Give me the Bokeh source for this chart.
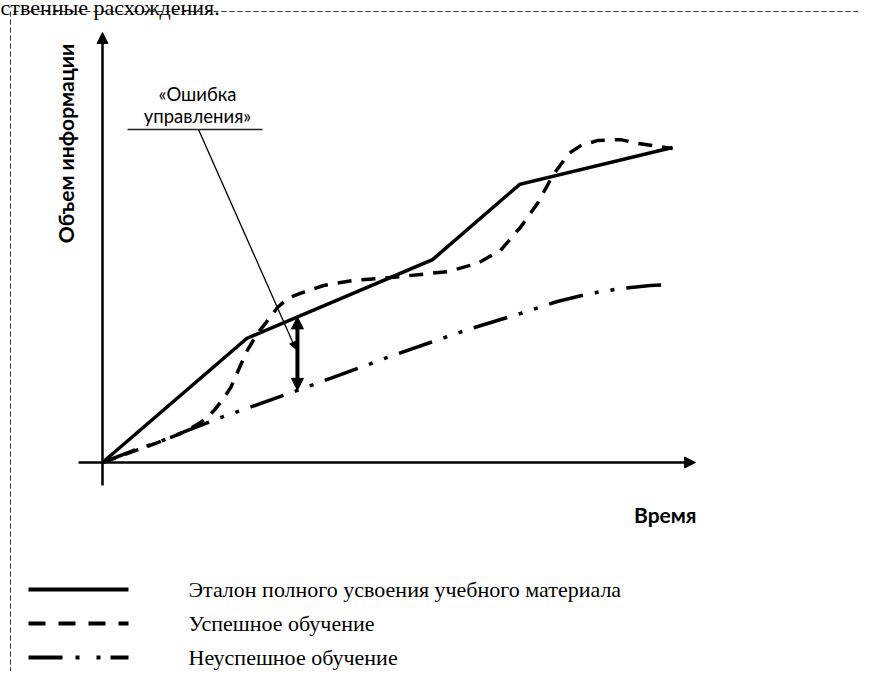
import numpy as np
from bokeh.plotting import figure
from bokeh.models import Range1d, Arrow, NormalHead, Label
from bokeh.embed import file_html
from bokeh.resources import INLINE

# ---------------- data ----------------
etalon_t = [0.0, 2.53, 5.79, 7.32, 10.0]
etalon_v = [0.0, 3.94, 6.44, 8.83, 10.0]

success_t = [0.0, 0.54, 0.98, 1.37, 1.67, 1.84, 1.97, 2.11, 2.25, 2.42, 2.54, 2.72,
             2.90, 3.07, 3.25, 3.47, 3.88, 4.40, 5.05, 5.58, 6.05, 6.58, 6.98, 7.33,
             7.63, 7.90, 8.18, 8.39, 8.68, 9.09, 9.39, 9.67, 10.0]
success_v = [0.0, 0.35, 0.64, 0.92, 1.21, 1.43, 1.68, 2.00, 2.38, 3.08, 3.56, 4.10,
             4.51, 4.92, 5.21, 5.37, 5.62, 5.78, 5.87, 5.97, 6.06, 6.32, 6.73, 7.46,
             8.22, 9.11, 9.81, 10.06, 10.22, 10.25, 10.13, 10.06, 9.97]

fail_t = [0.0, 0.54, 1.02, 1.54, 2.12, 2.63, 3.42, 4.00, 4.53, 5.05, 5.75, 6.46,
          7.33, 7.98, 8.56, 9.09, 9.61, 10.0]
fail_v = [0.0, 0.38, 0.67, 1.05, 1.46, 1.78, 2.29, 2.67, 3.02, 3.37, 3.81, 4.25,
          4.73, 5.11, 5.37, 5.52, 5.62, 5.65]

error_t = 3.42

legend_labels = ["Эталон полного усвоения учебного материала",
                 "Успешное обучение",
                 "Неуспешное обучение"]
x_label = "Время"
y_label = "Объем информации"
callout_lines = ["«Ошибка", "управления»"]
top_text = "ственные расхождения."

# ---------------- layout ----------------
W, H = 858, 671
X0, Y0, KX, KY = 102.0, 462.0, 57.0, 31.5   # pixel of origin, px per unit


def dx(px):
    return (px - X0) / KX


def dy(py):
    return (Y0 - py) / KY


p = figure(width=W, height=H,
           x_range=Range1d(dx(0), dx(W)),
           y_range=Range1d(dy(H), dy(0)),
           output_backend="svg", toolbar_location=None,
           x_axis_location=None, y_axis_location=None,
           min_border=0, outline_line_color=None, background_fill_color="white")
p.grid.visible = False

DASH_S = "14 10"
DASH_F = "35 12 4 12 4 12"

# text of the page above the frame (cut off at the top, as in the source)
p.add_layout(Label(x=dx(0), y=dy(7), text=top_text,
                   text_align="left", text_baseline="alphabetic",
                   text_font="Liberation Serif", text_font_size="22px",
                   text_color="black"))

# dashed frame
p.line([dx(10), dx(10), dx(900)], [dy(720), dy(11), dy(11)],
       line_width=1, line_dash="5 3", color="#333333")

# curves
p.line(etalon_t, etalon_v, line_width=3.5, color="black", line_join="miter")
p.line(success_t, success_v, line_width=3.5, color="black", line_dash=DASH_S)
p.line(fail_t, fail_v, line_width=3.5, color="black", line_dash=DASH_F)

# axes with arrows
head = dict(fill_color="black", line_color="black", line_width=1)
p.add_layout(Arrow(end=NormalHead(size=11, **head),
                   x_start=0, y_start=dy(485), x_end=0, y_end=dy(32),
                   line_width=2.5, line_color="black"))
p.add_layout(Arrow(end=NormalHead(size=11, **head),
                   x_start=dx(78), y_start=0, x_end=dx(695), y_end=0,
                   line_width=2.5, line_color="black"))

# error double arrow
top = float(np.interp(error_t, etalon_t, etalon_v))
bot = float(np.interp(error_t, fail_t, fail_v))
p.add_layout(Arrow(start=NormalHead(size=12, **head), end=NormalHead(size=12, **head),
                   x_start=error_t, y_start=bot, x_end=error_t, y_end=top,
                   line_width=4, line_color="black"))

# callout
p.line([dx(127), dx(262)], [dy(129), dy(129)], line_width=1.5, color="#222222")
p.add_layout(Arrow(end=NormalHead(size=7, **head),
                   x_start=dx(198), y_start=dy(129),
                   x_end=error_t - 0.03, y_end=(top + bot) / 2 + 0.15,
                   line_width=1.3, line_color="black"))
for i, txt in enumerate(callout_lines):
    p.add_layout(Label(x=dx(197), y=dy(93 + 22 * i), text=txt,
                       text_align="center", text_baseline="alphabetic",
                       text_font="Lato", text_font_size="18.5px", text_color="black"))

# axis titles
p.add_layout(Label(x=dx(65), y=dy(143), text=y_label, angle=np.pi / 2,
                   text_align="center", text_baseline="alphabetic",
                   text_font="Lato", text_font_style="bold", text_font_size="21px",
                   text_color="black"))
p.add_layout(Label(x=dx(696), y=dy(514), text=x_label,
                   text_align="right", text_baseline="alphabetic",
                   text_font="Lato", text_font_style="bold", text_font_size="21px",
                   text_color="black"))

# legend
leg_y = [589, 623, 657]
leg_dash = ["solid", "17 13", "34 13 4 17 4 10"]
for yy, lab, dsh in zip(leg_y, legend_labels, leg_dash):
    p.line([dx(28), dx(128)], [dy(yy), dy(yy)], line_width=4, color="black", line_dash=dsh)
    p.add_layout(Label(x=dx(188), y=dy(yy), text=lab,
                       text_align="left", text_baseline="middle",
                       text_font="Liberation Serif", text_font_size="22px",
                       text_color="black"))

open("out.html", "w").write(file_html(p, INLINE))
